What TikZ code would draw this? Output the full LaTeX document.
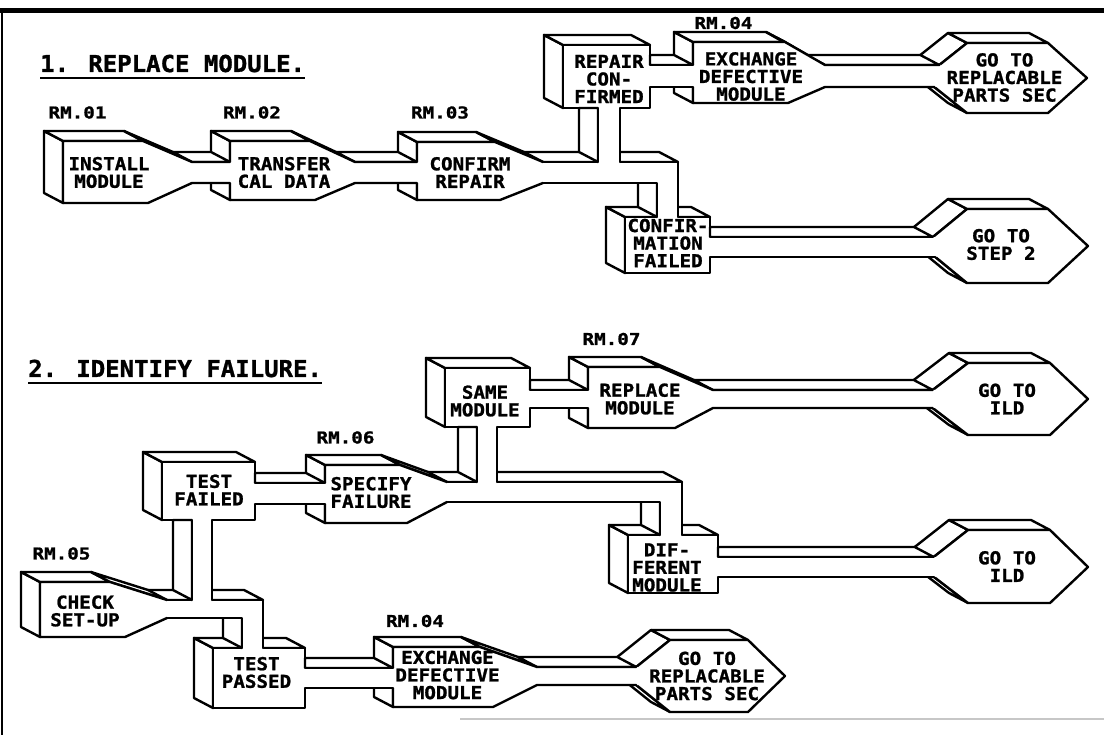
\documentclass[tikz,border=0pt]{standalone}
\usepackage{fontspec}
\newfontfamily\pfa[FakeStretch=1.08,FakeBold=1.2]{DejaVu Sans Mono}
\newfontfamily\pfb[FakeStretch=1.18,FakeBold=1.2]{DejaVu Sans Mono}
\newfontfamily\pfc[FakeStretch=1.03,FakeBold=1.2]{DejaVu Sans Mono}
\tikzset{
 fc/.style={fill=white,draw=black,line width=2.4pt,line join=round},
 strk/.style={draw=black,line width=2.4pt,line join=round,line cap=round},
 lbl/.style={font=\pfa\bfseries\fontsize{17.8}{17.6}\selectfont,align=center,inner sep=0pt},
 rmlbl/.style={font=\pfb\bfseries\fontsize{16.3}{16}\selectfont,inner sep=0pt},
 ttl/.style={font=\pfc\bfseries\fontsize{23.3}{24}\selectfont,inner sep=0pt,anchor=base west},
}
\def\splitpair#1/#2\relax{\def\xt{#1}\def\xb{#2}}
% quad face: edge P=(#1,#2) Q=(#3,#4) extruded by depth (-19,-10)
\newcommand{\quadface}[4]{%
  \path[fc] (#1,#2) -- (#3,#4) -- ({#3-19},{#4-10}) -- ({#1-19},{#2-10}) -- cycle;}
% decision cube: L T R B
\newcommand{\decbox}[4]{%
  \quadface{#1}{#4}{#1}{#2}%
  \quadface{#1}{#2}{#3}{#2}%
  \path[fc] (#1,#2) rectangle (#3,#4);}
% terminal hexagon: Lx TLx TRx Rx Ty By Cy
\newcommand{\terminalshape}[7]{%
  \quadface{#1}{#7}{#2}{#5}%
  \quadface{#2}{#5}{#3}{#5}%
  \quadface{#2}{#6}{#1}{#7}%
  \path[fc] (#1,#7) -- (#2,#5) -- (#3,#5) -- (#4,#7) -- (#3,#6) -- (#2,#6) -- cycle;}
% process block with tapered outlet: L T B Rt Rb E Y1 Y2 Xtop/Xbot
\newcommand{\procblock}[9]{%
  \splitpair#9\relax
  \pgfmathsetmacro\xf{max(\xt,\xb)+ifthenelse(\xt>#6,2,0)}%
  \quadface{#1}{#3}{#1}{#2}%
  \quadface{#1}{#2}{#4}{#2}%
  \quadface{#4}{#2}{#6}{#7}%
  \ifdim\xt pt>#6pt \quadface{#6}{#7}{\xt}{#7}\fi
  \fill[white] (#1,#2) -- (#4,#2) -- (#6,#7) -- (\xf,#7) -- (\xf,#8) -- (#6,#8) -- (#5,#3) -- (#1,#3) -- cycle;
  \draw[strk] (\xt,#7) -- (#6,#7) -- (#4,#2) -- (#1,#2) -- (#1,#3) -- (#5,#3) -- (#6,#8) -- (\xb,#8);}
% straight pipe from a box: X0 X1top X1bot Y1 Y2
\newcommand{\boxpipe}[5]{%
  \path[fc] (#1,#4) -- (#2,#4) -- ({#2-19},{#4-10}) -- (#1,{#4-10}) -- cycle;
  \fill[white] ({#1-2},#4) rectangle ({max(#2,#3)+2},#5);
  \draw[strk] (#1,#4) -- (#2,#4) (#1,#5) -- (#3,#5);}
% junction: Xs Y1 Y2 a b Tb a2 b2 Ybox
\newcommand{\junction}[9]{%
  \quadface{#1}{#2}{#5}{#2}%
  \quadface{#4}{#6}{#4}{#3}%
  \fill[white] (#1,#2) -- (#5,#2) -- (#5,{#6+2}) -- (#4,{#6+2}) -- (#4,#3) -- (#1,#3) -- cycle;
  \draw[strk] (#1,#2) -- (#5,#2) -- (#5,#6);
  \draw[strk] (#4,#6) -- (#4,#3) -- (#1,#3);
  \path[fc] (#7,#9) -- (#7,#2) -- ({#7-19},{#2-10}) -- ({#7-19},#9) -- cycle;
  \fill[white] (#7,{#9-2}) rectangle (#8,{#2+2});
  \draw[strk] (#7,#9) -- (#7,#2) (#8,#9) -- (#8,#2);}
\begin{document}
\begin{tikzpicture}[x=1pt,y=-1pt]
\useasboundingbox (0,0) rectangle (1104,735);
% frame
\draw[line width=5pt] (0,11) -- (1104,11);
\draw[line width=2pt] (1.5,11) -- (1.5,735);
\draw[line width=1.5pt,black!22] (460,719) -- (1104,719);
% ---------- section 1 ----------
\terminalshape{923}{967}{1048}{1087}{43}{113}{78}
\terminalshape{922}{967}{1048}{1088}{209}{283}{246}
\procblock{693}{42}{103}{785}{788}{825}{65}{87}{939.3/934.3}
\decbox{563}{45}{650}{108}
\decbox{625}{217}{710}{273}
\boxpipe{650}{693}{693}{65}{87}
\boxpipe{710}{932.9}{935.4}{237}{257}
\junction{528}{162}{183}{657}{678}{217}{598}{620}{108}
\procblock{417}{142}{200}{495}{500}{543}{162}{183}{543/543}
\procblock{230}{141}{200}{310}{315}{355}{162}{183}{417/417}
\procblock{63}{141}{203}{143}{148}{192}{162}{183}{230/230}
% ---------- section 2 ----------
\terminalshape{921}{968}{1050}{1088}{363}{435}{399}
\terminalshape{921}{968}{1050}{1088}{530}{603}{567}
\terminalshape{625}{670}{748}{785}{640}{712}{676}
\procblock{588}{367}{428}{660}{675}{713}{390}{408}{932.75/932.75}
\procblock{393}{647}{707}{480}{493}{537}{667}{685}{636.25/636.25}
\decbox{445}{368}{530}{427}
\decbox{628}{535}{718}{593}
\decbox{162}{462}{255}{520}
\decbox{213}{648}{305}{708}
\boxpipe{530}{588}{588}{390}{408}
\boxpipe{718}{933.7}{934.1}{557}{577}
\boxpipe{305}{393}{393}{668}{688}
\junction{435}{482}{502}{660}{682}{535}{477}{497}{427}
\procblock{325}{465}{523}{400}{407}{447}{482}{502}{447/447}
\boxpipe{255}{325}{325}{483}{504}
\junction{155}{600}{618}{242}{263}{648}{192}{212}{520}
\procblock{40}{582}{637}{110}{125}{167}{600}{618}{167/167}
% ---------- titles ----------
\node[ttl] (t1) at (40,72) {1. REPLACE MODULE.};
\draw[line width=2pt] ([yshift=-6pt]t1.base west) -- ([yshift=-6pt]t1.base east);
\node[ttl] (t2) at (28,377) {2. IDENTIFY FAILURE.};
\draw[line width=2pt] ([yshift=-6pt]t2.base west) -- ([yshift=-6pt]t2.base east);
% ---------- step codes ----------
\node[rmlbl] (rm01) at (77.5,112.5) {RM.01};
\node[rmlbl] (rm02) at (252,112.5) {RM.02};
\node[rmlbl] (rm03) at (440,112.5) {RM.03};
\node[rmlbl] (rm04a) at (723.5,23) {RM.04};
\node[rmlbl] (rm07) at (611.5,339) {RM.07};
\node[rmlbl] (rm06) at (345.5,437.5) {RM.06};
\node[rmlbl] (rm05) at (61.5,553.5) {RM.05};
\node[rmlbl] (rm04b) at (415,621) {RM.04};
% ---------- block texts ----------
\node[lbl] (l1) at (109,172.5) {INSTALL\\MODULE};
\node[lbl] (l2) at (284,172.5) {TRANSFER\\CAL DATA};
\node[lbl] (l3) at (470,172.5) {CONFIRM\\REPAIR};
\node[lbl] (l4) at (609,79) {REPAIR\\CON-\\FIRMED};
\node[lbl] (l5) at (751,76.5) {EXCHANGE\\DEFECTIVE\\MODULE};
\node[lbl] (l6) at (1004.5,77.5) {GO TO\\REPLACABLE\\PARTS SEC};
\node[lbl] (l7) at (668,243) {CONFIR-\\MATION\\FAILED};
\node[lbl] (l8) at (1001,244.5) {GO TO\\STEP 2};
\node[lbl] (l9) at (485,401) {SAME\\MODULE};
\node[lbl] (l10) at (640,399) {REPLACE\\MODULE};
\node[lbl] (l11) at (1007,399) {GO TO\\ILD};
\node[lbl] (l12) at (209,490) {TEST\\FAILED};
\node[lbl] (l13) at (371,492.5) {SPECIFY\\FAILURE};
\node[lbl] (l14) at (667,567.5) {DIF-\\FERENT\\MODULE};
\node[lbl] (l15) at (1007,566.5) {GO TO\\ILD};
\node[lbl] (l16) at (85,611) {CHECK\\SET-UP};
\node[lbl] (l17) at (256.5,672.5) {TEST\\PASSED};
\node[lbl] (l18) at (447.5,675) {EXCHANGE\\DEFECTIVE\\MODULE};
\node[lbl] (l19) at (707,676) {GO TO\\REPLACABLE\\PARTS SEC};
\end{tikzpicture}
\end{document}
